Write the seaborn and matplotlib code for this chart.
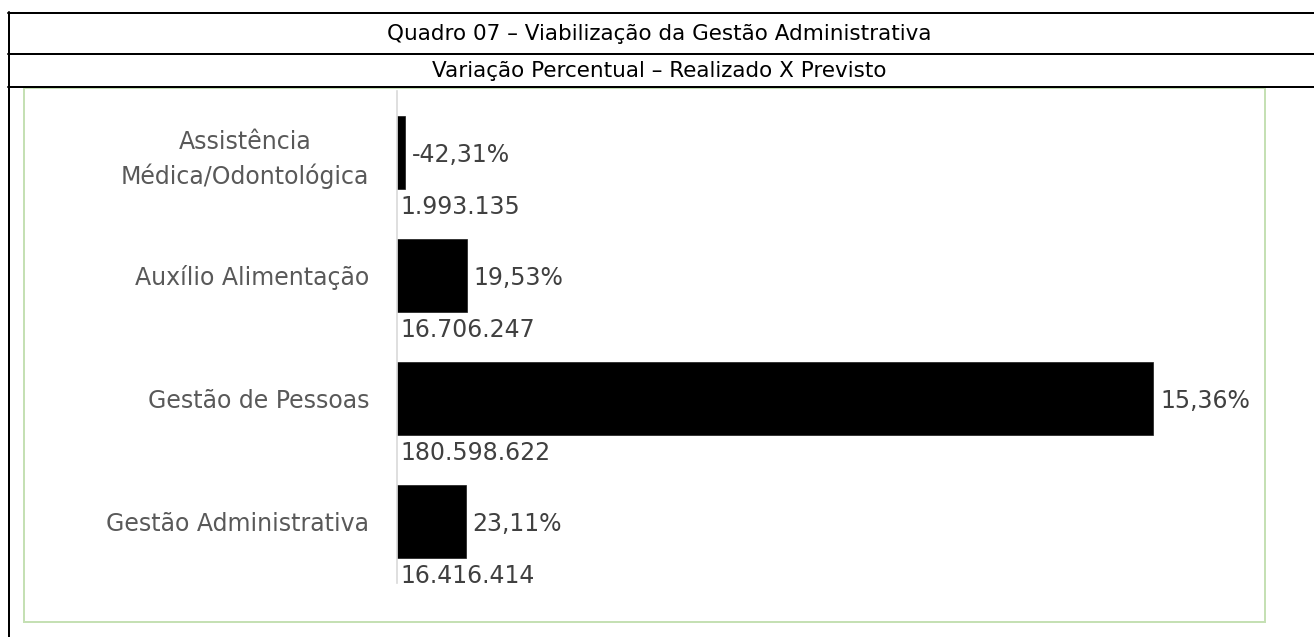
import matplotlib
matplotlib.use("Agg")
import matplotlib.pyplot as plt
from matplotlib.lines import Line2D
from matplotlib.patches import Rectangle
import seaborn as sns
import pandas as pd

# ---- data ----
categories = ["Assistência\nMédica/Odontológica", "Auxílio Alimentação",
              "Gestão de Pessoas", "Gestão Administrativa"]
values = [1993135, 16706247, 180598622, 16416414]
value_labels = ["1.993.135", "16.706.247", "180.598.622", "16.416.414"]
pct_labels = ["-42,31%", "19,53%", "15,36%", "23,11%"]
title = "Quadro 07 – Viabilização da Gestão Administrativa"
subtitle = "Variação Percentual – Realizado X Previsto"

sns.set_theme(style="white")
plt.rcParams['font.family'] = ['DejaVu Sans']

W, H = 1314, 637
fig = plt.figure(figsize=(W / 100, H / 100), dpi=100)
fig.patch.set_facecolor("white")

def fx(px):
    return px / W

def fy(py):
    return 1 - py / H

# frame lines (table look)
lw_black = 2 * 72 / 100
for y in (13, 54, 87):
    fig.add_artist(Line2D([fx(8), fx(W)], [fy(y), fy(y)], color="black", lw=lw_black,
                          transform=fig.transFigure))
fig.add_artist(Line2D([fx(9), fx(9)], [fy(12), fy(H)], color="black", lw=lw_black,
                      transform=fig.transFigure))
# green chart border
fig.add_artist(Rectangle((fx(24), fy(622)), fx(1265) - fx(24), fy(88) - fy(622),
                         fill=False, edgecolor="#c5e0b4", lw=2 * 72 / 100,
                         transform=fig.transFigure))

fig.text(fx(659), fy(33.5), title, ha="center", va="center", fontsize=15.5, color="black")
fig.text(fx(659), fy(71), subtitle, ha="center", va="center", fontsize=15.5, color="black")

# axes
ax_left, ax_right, ax_top, ax_bottom = 397, 1239, 91, 583
ax = fig.add_axes([fx(ax_left), fy(ax_bottom), fx(ax_right - ax_left), (ax_bottom - ax_top) / H])

df = pd.DataFrame({"cat": categories, "val": values})
sns.barplot(data=df, x="val", y="cat", orient="h", color="black", saturation=1,
            width=0.59, ax=ax, edgecolor="#1a1a1a", linewidth=0.5)

ax.set_xlim(0, 2.011e8)
ax.set_ylim(3.5, -0.5)
ax.set_xlabel("")
ax.set_ylabel("")
ax.set_xticks([])
ax.patch.set_alpha(0)
for s in ("top", "right", "bottom"):
    ax.spines[s].set_visible(False)
ax.spines["left"].set_color("#d9d9d9")
ax.spines["left"].set_linewidth(1.2)
ax.tick_params(axis="y", length=0, pad=20, labelsize=17, labelcolor="#595959")
for lbl in ax.get_yticklabels():
    lbl.set_multialignment("center")
    lbl.set_linespacing(1.45)

txt_col = "#404040"
for i, (v, vl, pl) in enumerate(zip(values, value_labels, pct_labels)):
    ax.annotate(pl, xy=(v, i), xytext=(5, -2), textcoords="offset points",
                ha="left", va="center", fontsize=17, color=txt_col)
    ax.annotate(vl, xy=(0, i + 0.445), xytext=(2.5, 0), textcoords="offset points",
                ha="left", va="center", fontsize=17, color=txt_col)

fig.savefig("out.png", dpi=100, facecolor="white")
